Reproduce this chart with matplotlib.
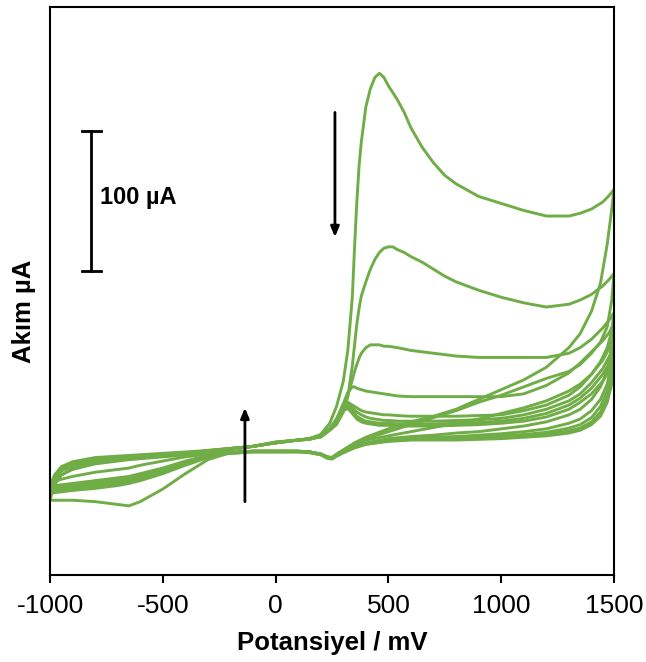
import numpy as np
import matplotlib
matplotlib.use('Agg')
import matplotlib.pyplot as plt

plt.rcParams['font.family'] = ['Liberation Sans', 'DejaVu Sans']
plt.rcParams['axes.unicode_minus'] = False

# potansiyel noktalari (mV) - ileri ve geri tarama
E_ileri = [-1000, -980, -950, -900, -800, -650, -500, -350, -200, -100, 0, 100, 150,
           200, 240, 270, 300, 320, 340, 350, 360, 370, 380, 400, 420, 440, 460, 480,
           500, 520, 540, 570, 600, 650, 700, 750, 800,
           900, 1000, 1100, 1200, 1300, 1350, 1400, 1450, 1480, 1500]
E_geri = [1500, 1490, 1470, 1440, 1400, 1350, 1300, 1200, 1100, 1000, 900, 800, 700,
          600, 500, 400, 350, 300, 270, 250, 230, 200, 150, 100, 0, -100, -200, -300,
          -400, -500, -600, -650, -700, -800, -900, -950, -1000]

# akim (uA) - her dongu icin ileri tarama
ileri_1 = [-36, -30, -25, -21, -17, -14, -12, -10, -7, -4.5, -1.5, 0, 1,
           4, 12, 24, 42, 64, 102, 138, 170, 196, 213, 238, 251, 259, 262, 259,
           253, 248, 243, 234, 223, 209, 198, 189, 183,
           174, 169, 164, 160, 160, 162, 165, 170, 175, 179]
ileri_2 = [-43, -32, -25, -20, -16, -13.5, -11.5, -9.5, -6.5, -4.5, -1.5, 0, 1,
           2, 7, 11, 20, 31, 53, 68, 83, 94, 103, 113, 122, 129, 134, 137,
           138, 138, 136, 134, 131, 127, 122, 117, 113,
           107, 102, 98, 95, 97, 100, 104, 110, 115, 119]
ileri_3 = [-36, -28, -22, -18, -15, -13, -11, -9, -6.5, -4.5, -1.5, 0, 1,
           3, 8, 13, 24, 32, 43, 49, 54, 58.5, 62, 66, 68, 68, 68, 67,
           67, 66.5, 66, 65, 64, 63, 62, 61, 60,
           59, 59, 59, 59, 62, 66, 72, 80, 86, 91]
ileri_4 = [-38, -29, -22, -18, -14.5, -12.5, -10.5, -9, -6.5, -4.5, -2, 0, 1,
           3, 8, 15, 26, 34, 38, 38, 37, 36.5, 36, 35, 34.5, 34, 33.5, 33,
           32.5, 32, 31.5, 31.2, 31, 31, 31, 31, 31,
           31, 31, 33, 39, 48, 55, 63, 71, 77, 84]
ileri_5 = [-36, -27, -21, -17, -14, -12, -10.5, -8.5, -6, -4.5, -2, 0, 1,
           3, 8, 15, 25, 27, 25, 24, 23, 22, 21, 20, 19.5, 19, 18.5, 18,
           18, 17.8, 17.5, 17.2, 17, 17, 17, 17, 17,
           17.5, 18, 21, 25, 32, 38, 47, 57, 66, 76]
ileri_6 = [-35, -26, -20, -16.5, -13.5, -11.5, -10, -8.5, -6, -4.5, -2, 0, 0.5,
           3, 8, 14, 23, 25, 23, 21.5, 20, 19, 18, 16.5, 15.5, 15, 14.5, 14,
           14, 13.8, 13.5, 13.5, 13.5, 13.5, 13.5, 13.7, 14,
           14.5, 15.5, 18, 22, 28, 33, 41, 51, 60, 70]
ileri_7 = [-34, -26, -20, -16, -13, -11.5, -10, -8.5, -6, -4.5, -2, 0, 0.5,
           3, 8, 14, 22, 24, 21, 19, 17, 16, 15, 13.5, 13, 12.5, 12, 12,
           12, 11.8, 11.5, 11.5, 11.5, 11.5, 11.5, 11.7, 12,
           12.5, 13.5, 15.5, 19, 25, 30, 37, 47, 55, 64]
ileri_8 = [-33, -25, -19, -15.5, -12.5, -11, -9.5, -8, -6, -4.5, -2, 0, 0.5,
           2.5, 7, 13, 21, 22.5, 19, 17, 15, 14, 13, 12, 11.5, 11, 10.5, 10.5,
           10.5, 10.2, 10, 10, 10, 10, 10, 10.2, 10.5,
           11, 12, 13.5, 16.5, 22, 27, 33, 42, 50, 58]

# akim (uA) - her dongu icin geri tarama
geri_1 = [179, 165, 140, 112, 92, 76, 66, 52, 43, 36, 29, 22, 17, 13, 8,
          2, -2, -7, -10, -12.5, -12, -10, -8.5, -8, -8, -8, -9,
          -14, -24, -35, -44, -47, -46, -44, -43, -43, -43]
geri_2 = [119, 100, 81, 70, 62, 54, 49, 44, 38, 32, 27, 21, 16, 11, 6,
          1, -3, -7.5, -10.5, -12.5, -12, -10, -8.5, -8, -8, -8, -9,
          -12, -17, -23, -28, -30, -32, -34, -35, -35.5, -36]
geri_3 = [91, 78, 66, 56, 47, 40, 35, 28, 23, 19, 15, 12, 9, 6, 3,
          0, -3.5, -8, -11, -13, -12.5, -10, -8.5, -8, -8, -8, -9,
          -12.5, -18, -24, -29, -31, -32.5, -34.5, -36, -37, -38]
geri_4 = [84, 66, 50, 38, 29, 22, 18, 13, 10, 8, 6, 5, 3.5, 2.5, 1,
          -2, -4.5, -8, -11, -13, -12.5, -10, -8.5, -8, -8, -8, -9,
          -12, -17, -22, -27, -29, -30.5, -32.5, -34, -35, -36]
geri_5 = [76, 56, 40, 29, 21, 15, 12, 8, 6, 4.5, 3.5, 2.5, 2, 1.5, 0.5,
          -2.5, -5, -8.5, -11, -13, -12.5, -10, -8.5, -8, -8, -8, -9,
          -11.5, -16, -21, -26, -28, -29, -31, -33, -34, -35]
geri_6 = [70, 50, 35, 24, 16, 11, 8.5, 5.5, 4, 3, 2.5, 2, 1.5, 1, 0,
          -2.5, -5, -8.5, -11, -13, -12.5, -10, -8.5, -8, -8, -8, -9,
          -11.5, -16, -21, -25, -27, -28, -30, -32, -33, -34]
geri_7 = [64, 44, 30, 20, 13, 8.5, 6.5, 4, 3, 2, 1.5, 1, 1, 0.5, -0.5,
          -3, -5.5, -9, -11.5, -13.5, -13, -10.5, -9, -8.5, -8.5, -8.5, -9.5,
          -11, -15, -20, -24, -26, -27, -29, -31, -32, -33]
geri_8 = [58, 40, 27, 17, 11, 7, 5, 3, 2, 1, 0.5, 0, 0, 0, -1,
          -3, -5.5, -9, -11.5, -13.5, -13, -10.5, -9, -8.5, -8.5, -8.5, -9.5,
          -10, -12, -15, -18, -20, -21, -23, -26, -28, -31]

ileri = [ileri_1, ileri_2, ileri_3, ileri_4, ileri_5, ileri_6, ileri_7, ileri_8]
geri = [geri_1, geri_2, geri_3, geri_4, geri_5, geri_6, geri_7, geri_8]

yesil = '#70AD47'

fig = plt.figure(figsize=(6.46, 6.62), dpi=100)
ax = fig.add_axes([0.0774, 0.1314, 0.8731, 0.858])

for f, g in zip(ileri, geri):
    x = np.r_[E_ileri, E_geri]
    y = np.r_[f, g]
    ax.plot(x, y, color=yesil, lw=2.1, solid_joinstyle='round', solid_capstyle='round')

# 100 uA olcek cubugu
xs = -818
ax.plot([xs, xs], [120.7, 220.7], color='black', lw=2)
ax.plot([xs - 42, xs + 42], [220.7, 220.7], color='black', lw=2)
ax.plot([xs - 42, xs + 42], [120.7, 120.7], color='black', lw=2)
ax.text(-780, 173, '100 µA', fontsize=17, fontweight='bold', ha='left', va='center')

# oklar (donguler ilerledikce akim azaliyor)
ax.annotate('', xy=(263, 143), xytext=(263, 236),
            arrowprops=dict(arrowstyle='-|>,head_length=0.6,head_width=0.25', lw=2, color='black'))
ax.annotate('', xy=(-136, 25), xytext=(-136, -46),
            arrowprops=dict(arrowstyle='-|>,head_length=0.6,head_width=0.25', lw=2, color='black'))

ax.set_xlim(-1000, 1500)
ax.set_ylim(-96.4, 309.3)
ax.set_xticks([-1000, -500, 0, 500, 1000, 1500])
ax.set_yticks([])
ax.tick_params(axis='x', direction='out', length=6, width=1.5, labelsize=19, pad=8)
for s in ax.spines.values():
    s.set_linewidth(1.5)

ax.set_xlabel('Potansiyel / mV', fontsize=18.5, fontweight='bold', labelpad=9)
ax.set_ylabel('Akım µA', fontsize=18.5, fontweight='bold')
ax.yaxis.set_label_coords(-0.025, 0.465)

fig.savefig('out.png', dpi=100)
